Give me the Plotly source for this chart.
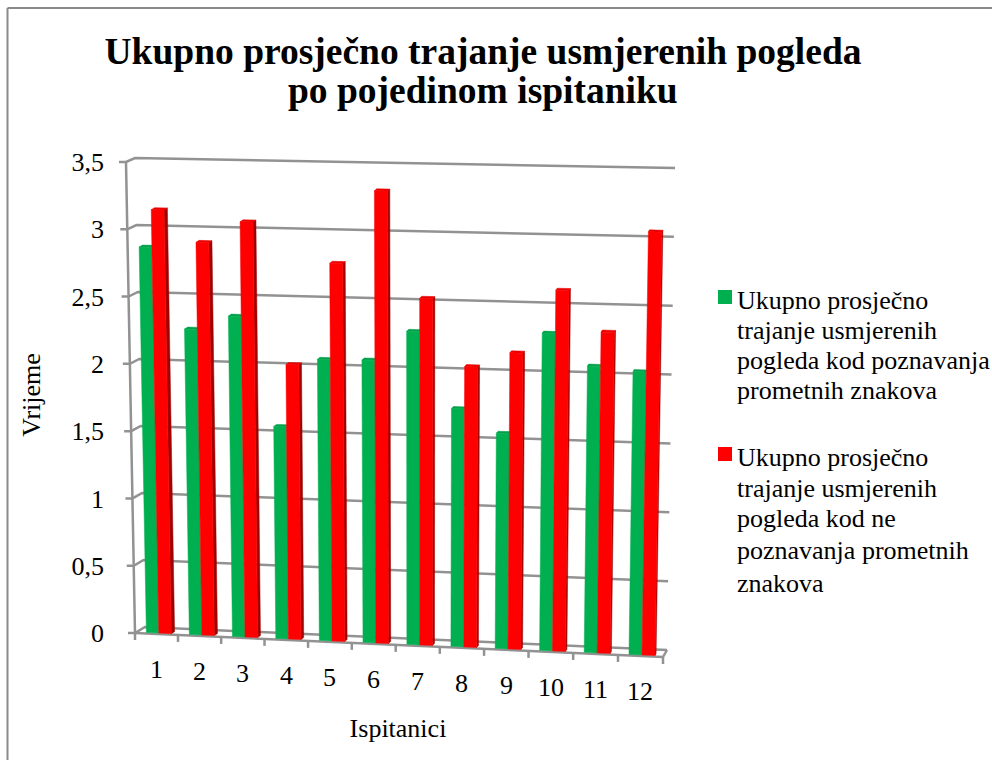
import plotly.graph_objects as go

# ---- data ----
categories = ["1", "2", "3", "4", "5", "6", "7", "8", "9", "10", "11", "12"]
poznavanje = [2.865, 2.265, 2.37, 1.565, 2.07, 2.075, 2.295, 1.74, 1.57, 2.31, 2.08, 2.05]
ne_poznavanje = [3.145, 2.91, 3.07, 2.025, 2.78, 3.32, 2.54, 2.05, 2.16, 2.625, 2.33, 3.065]
value_ticks = [0, 0.5, 1, 1.5, 2, 2.5, 3, 3.5]
value_labels = ["0", "0,5", "1", "1,5", "2", "2,5", "3", "3,5"]
title_line_1 = "Ukupno prosječno trajanje usmjerenih pogleda"
title_line_2 = "po pojedinom ispitaniku"
y_title = "Vrijeme"
x_title = "Ispitanici"
series_1_name = "Ukupno prosječno trajanje usmjerenih pogleda kod poznavanja prometnih znakova"
series_2_name = "Ukupno prosječno trajanje usmjerenih pogleda kod ne poznavanja prometnih znakova"
legend_1_lines = ["Ukupno prosječno", "trajanje usmjerenih", "pogleda kod poznavanja", "prometnih znakova"]
legend_2_lines = ["Ukupno prosječno", "trajanje usmjerenih", "pogleda kod ne", "poznavanja prometnih", "znakova"]

# ---- styling / layout constants ----
W, H = 992, 760
FONT = "Liberation Serif"
TXT = 26
TITLE_SIZE = 37.5
GREEN, GREEN_SIDE, GREEN_TOP = "#00B050", "#007a38", "#00a049"
RED, RED_SIDE, RED_TOP = "#FF0000", "#A00000", "#E80000"
GRID = "#929292"
PLOT_L, PLOT_R, PLOT_T, PLOT_B = 105, 691, 90, 700

# axis units: one category = 44 px, one value unit = 134.6 px
PX_U, PX_V = 44.0, 134.6
def X(px): return (px - 135) / PX_U
def Y(py): return (633 - py) / PX_V

N = len(categories)
VMAX = value_ticks[-1]
# perspective corners of the chart box (front / back planes), screen position
CORNERS = {
    (0, 0, 0): (135, 633), (0, 1, 0): (126, 162), (1, 0, 0): (663, 657), (1, 1, 0): (671, 173),
    (0, 0, 1): (145, 627), (0, 1, 1): (135, 158), (1, 0, 1): (667, 650), (1, 1, 1): (675, 168),
}

def project(u, v, d=0.0):
    """category position u (0..N), value v, depth d (0 front..1 back) -> axis coordinates"""
    t = u / N
    t = t - 0.025 * t * (1 - t)
    s = v / VMAX
    px = py = 0.0
    for (a, b, c), (cx, cy) in CORNERS.items():
        w = (t if a else 1 - t) * (s if b else 1 - s) * (d if c else 1 - d)
        px += w * cx
        py += w * cy
    return X(px), Y(py)

def line(pts, color=GRID, width=2.5):
    return go.Scatter(x=[p[0] for p in pts], y=[p[1] for p in pts], mode="lines",
                      line=dict(color=color, width=width), hoverinfo="skip", showlegend=False)

def poly(pts, color, name=None, group=None):
    xs = [p[0] for p in pts] + [pts[0][0]]
    ys = [p[1] for p in pts] + [pts[0][1]]
    return go.Scatter(x=xs, y=ys, mode="lines", fill="toself", fillcolor=color,
                      line=dict(color=color, width=0.5), name=name, legendgroup=group,
                      showlegend=False, hoverinfo="skip" if name is None else "name")

fig = go.Figure()

# back wall grid, left-side diagonals and tick stubs
for v in value_ticks:
    back_l, back_r = project(0, v, 1), project(N, v, 1)
    front_l = project(0, v, 0)
    fig.add_trace(line([back_r, back_l, front_l, (front_l[0] - 7 / PX_U, front_l[1])]))
# left vertical axis and floor
fig.add_trace(line([project(0, 0, 0), project(0, VMAX, 0)]))
fig.add_trace(line([project(N, 0, 1), project(N, 0, 0)]))
fig.add_trace(line([project(0, 0, 0), project(N, 0, 0)]))
for i in range(N + 1):
    p = project(i, 0, 0)
    fig.add_trace(line([p, (p[0], p[1] - 7 / PX_V)]))

# bars
BAR_W, BAR_D = 0.29, 0.15
def bar(u0, u1, v, front, side, top, name, show_side):
    d = BAR_D
    a, b = project(u0, 0, d), project(u1, 0, d)
    c, e = project(u1, v, d), project(u0, v, d)
    u_frac = u1 / N
    dx = (3.5 - 2.5 * u_frac) / PX_U
    dy = 2 / PX_V
    if show_side:
        fig.add_trace(poly([b, c, (c[0] + dx, c[1] + dy), (b[0] + dx, b[1] + dy)], side))
    fig.add_trace(poly([e, c, (c[0] + dx, c[1] + dy), (e[0] + dx, e[1] + dy)], top))
    fig.add_trace(poly([a, b, c, e], front, name=name, group=name))

for i in range(N):
    mid = i + 0.5
    bar(mid - BAR_W + 0.02, mid + 0.02, poznavanje[i], GREEN, GREEN_SIDE, GREEN_TOP, series_1_name, False)
    bar(mid + 0.02, mid + BAR_W + 0.02, ne_poznavanje[i], RED, RED_SIDE, RED_TOP, series_2_name, True)

def paper_x(px): return (px - PLOT_L) / (PLOT_R - PLOT_L)
def paper_y(py): return (PLOT_B - py) / (PLOT_B - PLOT_T)

annotations = []
# category labels under the tilted floor edge
for i, c in enumerate(categories):
    x0, y0 = project(i + 0.5, 0, 0)
    annotations.append(dict(x=x0, y=y0 - 36 / PX_V, text=c, showarrow=False,
                            xanchor="center", yanchor="middle",
                            font=dict(family=FONT, size=TXT, color="black")))

annotations.append(dict(xref="paper", yref="paper", x=paper_x(483), y=paper_y(90), text=title_line_2,
                        showarrow=False, xanchor="center", yanchor="middle",
                        font=dict(family=FONT, size=TITLE_SIZE, color="black", weight="bold")))

# legend text, line by line
LEG_X = 735
def legend_block(lines, ys):
    for line_text, yy in zip(lines, ys):
        annotations.append(dict(xref="paper", yref="paper", x=paper_x(LEG_X), y=paper_y(yy),
                                text=line_text, showarrow=False, xanchor="left", yanchor="middle",
                                font=dict(family=FONT, size=TXT, color="black")))
    return ys[0]

y1 = legend_block(legend_1_lines, [300, 330, 360, 390])
y2 = legend_block(legend_2_lines, [457, 488, 518, 550, 583])

shapes = [
    dict(type="rect", xref="paper", yref="paper",
         x0=paper_x(718), x1=paper_x(732), y0=paper_y(y - 10), y1=paper_y(y + 4),
         fillcolor=col, line=dict(width=0))
    for y, col in ((y1, GREEN), (y2, RED))
]
# chart frame: only the top and left edges fall inside the window
shapes.append(dict(type="line", xref="paper", yref="paper", x0=paper_x(7.5), x1=paper_x(992),
                   y0=paper_y(8), y1=paper_y(8), line=dict(color="#8a8a8a", width=2)))
shapes.append(dict(type="line", xref="paper", yref="paper", x0=paper_x(7.5), x1=paper_x(7.5),
                   y0=paper_y(8), y1=paper_y(760), line=dict(color="#8a8a8a", width=2)))

fig.update_layout(
    width=W, height=H, autosize=False,
    margin=dict(l=PLOT_L, r=W - PLOT_R, t=PLOT_T, b=H - PLOT_B),
    paper_bgcolor="white", plot_bgcolor="rgba(0,0,0,0)",
    showlegend=False,
    font=dict(family=FONT, color="black"),
    title=dict(text=title_line_1, x=483 / W, xanchor="center", y=1 - 51 / H, yanchor="middle",
               font=dict(family=FONT, size=TITLE_SIZE, color="black", weight="bold")),
    xaxis=dict(range=[X(PLOT_L), X(PLOT_R)], showgrid=False, zeroline=False, showline=False,
               showticklabels=False, ticks="", title=dict(text=x_title, standoff=18,
               font=dict(family=FONT, size=TXT, color="black"))),
    yaxis=dict(range=[Y(PLOT_B), Y(PLOT_T)], showgrid=False, zeroline=False, showline=False,
               tickvals=value_ticks, ticktext=value_labels, ticks="",
               tickfont=dict(family=FONT, size=TXT, color="black"),
               title=dict(text=y_title, standoff=23, font=dict(family=FONT, size=TXT, color="black"))),
    annotations=annotations, shapes=shapes,
)

fig.write_html("out.html", config=dict(displayModeBar=False),
               post_script="document.body.style.margin='0';document.documentElement.style.overflow='hidden';")
